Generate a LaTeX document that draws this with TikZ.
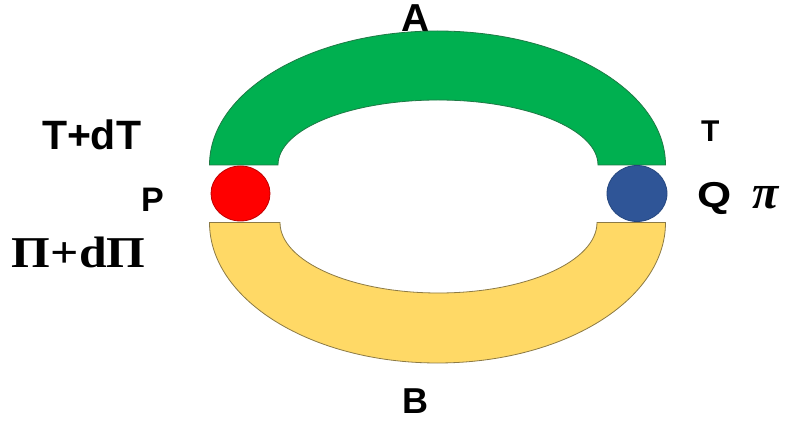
\documentclass[tikz,border=0pt]{standalone}
\usetikzlibrary{shapes.geometric}
\usepackage{fontspec}
\setmainfont{Liberation Sans}
\newfontfamily\timesf{Liberation Serif}
\definecolor{archgreen}{HTML}{00B050}
\definecolor{archgreenline}{HTML}{1E7A45}
\definecolor{archyellow}{HTML}{FFD966}
\definecolor{archyellowline}{HTML}{8C7A45}
\definecolor{ballred}{HTML}{FF0000}
\definecolor{ballredline}{HTML}{C00000}
\definecolor{ballblue}{HTML}{2F5597}
\definecolor{ballblueline}{HTML}{24467F}
\begin{document}
\begin{tikzpicture}[x=1pt,y=1pt,
  lbl/.style={inner sep=0pt, outer sep=0pt, text=black},
  sz/.style={font=\fontsize{#1}{#1}\selectfont\bfseries},
  ball/.style={ellipse, line width=0.8pt, inner sep=0pt}]
\useasboundingbox (0,0) rectangle (787,426);
\fill[white] (0,0) rectangle (787,426);
% label A (partly behind green arch)
\node[lbl, sz=39, anchor=base] (A) at (416,394) {A};
% green arch
\filldraw[fill=archgreen, draw=archgreenline, line width=0.8pt]
  (209.5,261) arc[start angle=180, end angle=0, x radius=228, y radius=134]
  -- (598,261) arc[start angle=0, end angle=180, x radius=160, y radius=65]
  -- cycle;
% yellow arch
\filldraw[fill=archyellow, draw=archyellowline, line width=0.8pt]
  (209.5,203.5) arc[start angle=180, end angle=360, x radius=228, y radius=140.5]
  -- (597,203.5) arc[start angle=360, end angle=180, x radius=158.5, y radius=70.5]
  -- cycle;
% balls
\node[ball, draw=ballredline, fill=ballred, minimum width=59, minimum height=55] (P0) at (240.5,232.5) {};
\node[ball, draw=ballblueline, fill=ballblue, minimum width=60, minimum height=56] (Q0) at (637,232.5) {};
% labels
\node[lbl, sz=36, anchor=base] (B) at (415.5,13) {B};
\node[lbl, sz=41, anchor=base west] (TdT) at (42,276) {T+dT};
\node[lbl, sz=34, anchor=base west] (P) at (141,214) {P};
\node[lbl, font=\timesf\fontsize{44}{44}\selectfont\bfseries, anchor=base west] (Pi) at (12,158) {\scalebox{1.13}[1]{Π+dΠ}};
\node[lbl, sz=30, anchor=base west] (T) at (701,284) {T};
\node[lbl, sz=36, anchor=base west] (Q) at (697,218) {\scalebox{1.22}[1]{Q}};
\node[lbl, font=\timesf\fontsize{48}{48}\selectfont\bfseries\itshape, anchor=base west] (pi) at (752,217) {π};
\end{tikzpicture}
\end{document}
